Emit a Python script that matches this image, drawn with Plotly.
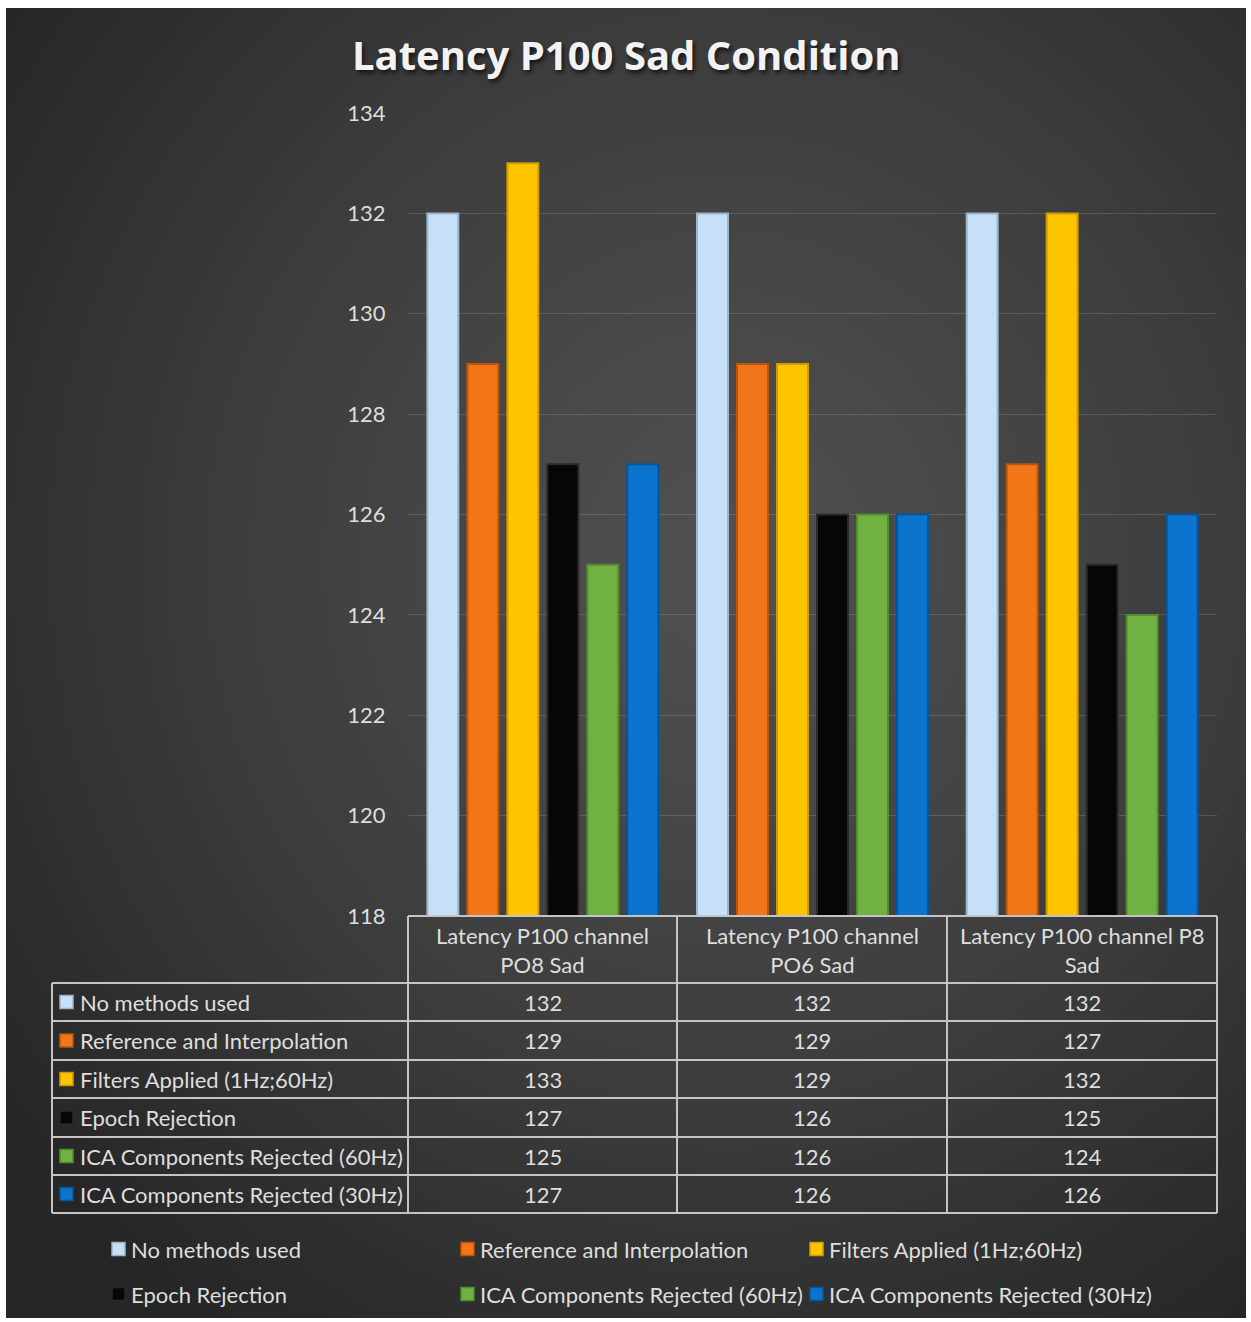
import base64
import plotly.graph_objects as go

# Chart content
title_text = "Latency P100 Sad Condition"
categories = ["Latency P100 channel<br>PO8 Sad",
              "Latency P100 channel<br>PO6 Sad",
              "Latency P100 channel P8<br>Sad"]
series_names = ["No methods used",
                "Reference and Interpolation",
                "Filters Applied (1Hz;60Hz)",
                "Epoch Rejection",
                "ICA Components Rejected (60Hz)",
                "ICA Components Rejected (30Hz)"]
no_methods = [132, 132, 132]
reference_interp = [129, 129, 127]
filters_applied = [133, 129, 132]
epoch_rejection = [127, 126, 125]
ica_60hz = [125, 126, 124]
ica_30hz = [127, 126, 126]
series_values = [no_methods, reference_interp, filters_applied,
                 epoch_rejection, ica_60hz, ica_30hz]
y_ticks = [118, 120, 122, 124, 126, 128, 130, 132, 134]

# Styling
colors = ["#c6e0f7", "#f27618", "#ffc400", "#060606", "#71b143", "#0b74cf"]
edges = ["#9bb4ca", "#b9550d", "#cf9c00", "#2a2a2a", "#528d2f", "#075599"]
W, H = 1251, 1322
FONT = "Lato"
TXT = "#dedede"
GRID_LINE = "#c4c4c4"
FS = 22


def fx(px):
    return px / W


def fy(py):
    return 1 - py / H


fig = go.Figure()
for name, vals, c, e in zip(series_names, series_values, colors, edges):
    fig.add_trace(go.Bar(
        name=name, x=categories, y=vals,
        marker=dict(color=c, line=dict(color=e, width=2)),
        showlegend=False,
        hovertemplate="%{y}<extra>" + name + "</extra>",
    ))

# Background: soft radial gradient
svg = ("<svg xmlns='http://www.w3.org/2000/svg' width='1240' height='1310' "
       "viewBox='0 0 1240 1310' preserveAspectRatio='none'><defs>"
       "<radialGradient id='g' cx='58%' cy='42%' r='72%'>"
       "<stop offset='0' stop-color='#515151'/>"
       "<stop offset='0.55' stop-color='#3d3d3d'/>"
       "<stop offset='1' stop-color='#262626'/>"
       "</radialGradient></defs>"
       "<rect width='1240' height='1310' fill='url(#g)'/></svg>")
bg_src = "data:image/svg+xml;base64," + base64.b64encode(svg.encode()).decode()

shapes = []
annotations = []

# Data table geometry (pixels)
col_edges = [408, 677, 947, 1217]
table_left = 52
header_top, header_bottom = 916, 983
row_lines = [983, 1021, 1060, 1098, 1137, 1175, 1213]


def hline(x0, x1, y):
    shapes.append(dict(type="line", xref="paper", yref="paper",
                       x0=fx(x0), x1=fx(x1), y0=fy(y), y1=fy(y),
                       line=dict(color=GRID_LINE, width=2)))


def vline(x, y0, y1):
    shapes.append(dict(type="line", xref="paper", yref="paper",
                       x0=fx(x), x1=fx(x), y0=fy(y0), y1=fy(y1),
                       line=dict(color=GRID_LINE, width=2)))


hline(col_edges[0], col_edges[-1], header_top)
for y in row_lines:
    hline(table_left, col_edges[-1], y)
for x in col_edges:
    vline(x, header_top, row_lines[-1])
vline(table_left, row_lines[0], row_lines[-1])

# Header cells
for i, cat in enumerate(categories):
    cx = (col_edges[i] + col_edges[i + 1]) / 2
    annotations.append(dict(xref="paper", yref="paper", x=fx(cx),
                            y=fy((header_top + header_bottom) / 2),
                            text=cat, showarrow=False, xanchor="center",
                            yanchor="middle",
                            font=dict(family=FONT, size=FS, color=TXT)))


def icon(x, yc, color, edge):
    shapes.append(dict(type="rect", xref="paper", yref="paper",
                       x0=fx(x), x1=fx(x + 13), y0=fy(yc - 6.5), y1=fy(yc + 6.5),
                       fillcolor=color, line=dict(color=edge, width=1.5)))


# Table rows
for r, (name, vals) in enumerate(zip(series_names, series_values)):
    yc = (row_lines[r] + row_lines[r + 1]) / 2
    icon(60, yc, colors[r], edges[r])
    annotations.append(dict(xref="paper", yref="paper", x=fx(78), y=fy(yc),
                            text=name, showarrow=False, xanchor="left",
                            yanchor="middle",
                            font=dict(family=FONT, size=FS, color=TXT)))
    for i, v in enumerate(vals):
        cx = (col_edges[i] + col_edges[i + 1]) / 2
        annotations.append(dict(xref="paper", yref="paper", x=fx(cx), y=fy(yc),
                                text=str(v), showarrow=False, xanchor="center",
                                yanchor="middle",
                                font=dict(family=FONT, size=FS, color=TXT)))

# Legend (3 columns x 2 rows)
legend_cols = [112, 461, 810]
legend_rows = [1249, 1294]
for k, name in enumerate(series_names):
    lx = legend_cols[k % 3]
    ly = legend_rows[k // 3]
    icon(lx, ly, colors[k], edges[k])
    annotations.append(dict(xref="paper", yref="paper", x=fx(lx + 17), y=fy(ly),
                            text=name, showarrow=False, xanchor="left",
                            yanchor="middle",
                            font=dict(family=FONT, size=FS, color=TXT)))

# Title
annotations.append(dict(xref="paper", yref="paper", x=fx(626), y=fy(55),
                        text="<b>" + title_text + "</b>", showarrow=False,
                        xanchor="center", yanchor="middle",
                        font=dict(family="Open Sans", size=40, color="#f2f2f2",
                                  shadow="2px 3px 4px #151515")))

fig.update_layout(
    width=W, height=H,
    autosize=False,
    margin=dict(l=0, r=0, t=0, b=0, pad=0, autoexpand=False),
    paper_bgcolor="#ffffff",
    plot_bgcolor="rgba(0,0,0,0)",
    barmode="group",
    bargap=0.11,
    bargroupgap=0.225,
    images=[dict(source=bg_src, xref="paper", yref="paper",
                 x=fx(6), y=fy(8), sizex=fx(1246) - fx(6), sizey=fy(8) - fy(1318),
                 sizing="stretch", layer="below", xanchor="left", yanchor="top")],
    xaxis=dict(domain=[fx(408), fx(1217)], showticklabels=False,
               showgrid=False, zeroline=False, showline=False, ticks="",
               automargin=False),
    yaxis=dict(domain=[fy(916), fy(113)], range=[118, 134],
               tickvals=y_ticks, showgrid=True,
               gridcolor="rgba(255,255,255,0.14)", gridwidth=1,
               zeroline=False, showline=False, automargin=False,
               ticks="outside", ticklen=17, tickcolor="rgba(0,0,0,0)",
               tickfont=dict(family=FONT, size=FS, color=TXT)),
    shapes=shapes,
    annotations=annotations,
    font=dict(family=FONT, color=TXT),
)

fig.write_html("out.html")
